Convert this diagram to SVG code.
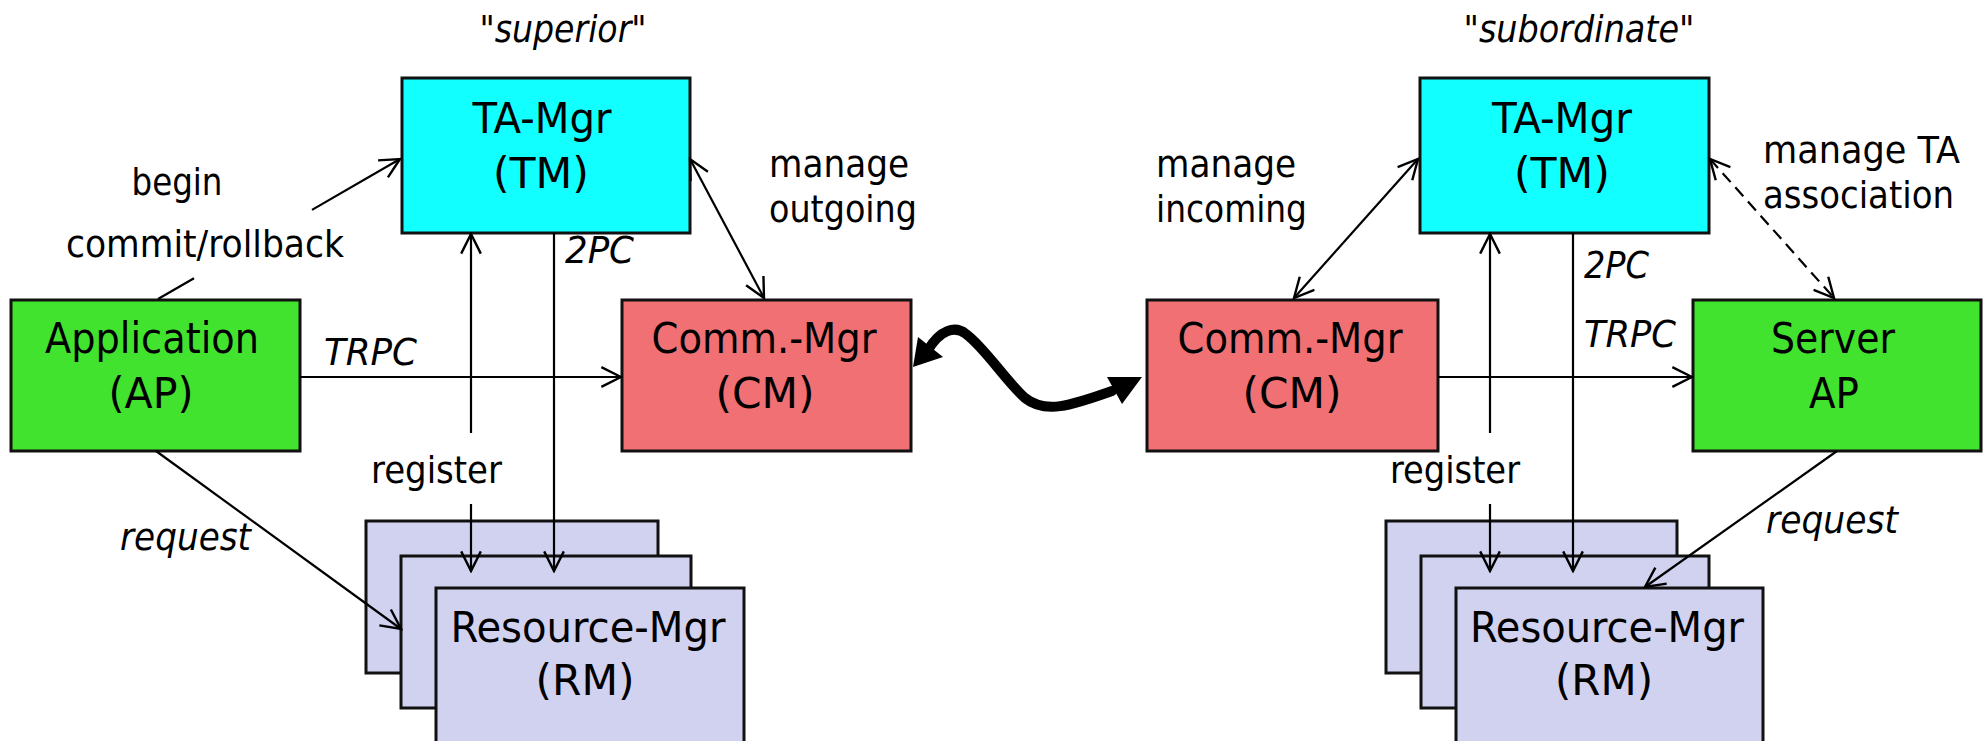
<svg xmlns="http://www.w3.org/2000/svg" width="1984" height="741" viewBox="0 0 1984 741">
  <style>
    text { font-family: "DejaVu Sans Condensed", "DejaVu Sans", sans-serif; font-stretch: condensed; fill: #000; }
    .node { font-size: 43px; text-anchor: middle; }
    .lbl { font-size: 38px; }
    .it { font-style: italic; }
    .mid { text-anchor: middle; }
    .box { stroke: #111; stroke-width: 3; }
    .tm { fill: #12FFFF; }
    .ap { fill: #42E32E; }
    .cm { fill: #F07074; }
    .rm { fill: #D1D2EF; }
    .conn { stroke: #000; stroke-width: 2.2; fill: none; }
    .dash { stroke-dasharray: 12 7; }
  </style>
  <defs>
    <marker id="arr" markerUnits="userSpaceOnUse" markerWidth="24" markerHeight="24" viewBox="-20 -11 22 22" refX="0" refY="0" orient="auto-start-reverse">
      <path d="M -18,-9 L 0,0 L -18,9" fill="none" stroke="#000" stroke-width="2.2"/>
    </marker>
  </defs>

  <rect width="1984" height="741" fill="#fff"/>

  <!-- section headings -->
  <text class="lbl it mid" x="563" y="42" textLength="167" lengthAdjust="spacingAndGlyphs">"superior"</text>
  <text class="lbl it mid" x="1579" y="42" textLength="231" lengthAdjust="spacingAndGlyphs">"subordinate"</text>

  <!-- superior side -->
  <g id="tm-superior">
    <rect class="box tm" x="402" y="78" width="288" height="155"/>
    <text class="node" x="542" y="133" textLength="139" lengthAdjust="spacingAndGlyphs">TA-Mgr</text>
    <text class="node" x="541" y="188" textLength="96" lengthAdjust="spacingAndGlyphs">(TM)</text>
  </g>
  <g id="application">
    <rect class="box ap" x="11" y="300" width="289" height="151"/>
    <text class="node" x="152" y="353" textLength="214" lengthAdjust="spacingAndGlyphs">Application</text>
    <text class="node" x="151" y="408" textLength="85" lengthAdjust="spacingAndGlyphs">(AP)</text>
  </g>
  <g id="cm-superior">
    <rect class="box cm" x="622" y="300" width="289" height="151"/>
    <text class="node" x="764" y="353" textLength="225" lengthAdjust="spacingAndGlyphs">Comm.-Mgr</text>
    <text class="node" x="765" y="408" textLength="99" lengthAdjust="spacingAndGlyphs">(CM)</text>
  </g>
  <g id="rm-superior">
    <rect class="box rm" x="366" y="521" width="292" height="152"/>
    <rect class="box rm" x="401" y="556" width="290" height="152"/>
    <rect class="box rm" x="436" y="588" width="308" height="170"/>
    <text class="node" x="588" y="642" textLength="275" lengthAdjust="spacingAndGlyphs">Resource-Mgr</text>
    <text class="node" x="585" y="695" textLength="99" lengthAdjust="spacingAndGlyphs">(RM)</text>
  </g>

  <!-- subordinate side -->
  <g id="tm-subordinate">
    <rect class="box tm" x="1420" y="78" width="289" height="155"/>
    <text class="node" x="1562" y="133" textLength="140" lengthAdjust="spacingAndGlyphs">TA-Mgr</text>
    <text class="node" x="1562" y="188" textLength="96" lengthAdjust="spacingAndGlyphs">(TM)</text>
  </g>
  <g id="cm-subordinate">
    <rect class="box cm" x="1147" y="300" width="291" height="151"/>
    <text class="node" x="1290" y="353" textLength="225" lengthAdjust="spacingAndGlyphs">Comm.-Mgr</text>
    <text class="node" x="1292" y="408" textLength="99" lengthAdjust="spacingAndGlyphs">(CM)</text>
  </g>
  <g id="server-ap">
    <rect class="box ap" x="1693" y="300" width="288" height="151"/>
    <text class="node" x="1833" y="353" textLength="124" lengthAdjust="spacingAndGlyphs">Server</text>
    <text class="node" x="1834" y="408" textLength="50" lengthAdjust="spacingAndGlyphs">AP</text>
  </g>
  <g id="rm-subordinate">
    <rect class="box rm" x="1386" y="521" width="291" height="152"/>
    <rect class="box rm" x="1421" y="556" width="288" height="152"/>
    <rect class="box rm" x="1456" y="588" width="307" height="170"/>
    <text class="node" x="1607" y="642" textLength="274" lengthAdjust="spacingAndGlyphs">Resource-Mgr</text>
    <text class="node" x="1604" y="695" textLength="98" lengthAdjust="spacingAndGlyphs">(RM)</text>
  </g>

  <!-- connectors -->
  <g id="connectors">
    <!-- begin / commit/rollback : AP -> TM (broken around label) -->
    <path class="conn" d="M158,299 L194,278.2"/>
    <path class="conn" d="M312,209.9 L400,159" marker-end="url(#arr)"/>
    <!-- TRPC AP -> CM -->
    <path class="conn" d="M300,377 L621,377" marker-end="url(#arr)"/>
    <!-- register (RM <-> TM) -->
    <path class="conn" d="M471,433 L471,234" marker-end="url(#arr)"/>
    <path class="conn" d="M471,504 L471,571" marker-end="url(#arr)"/>
    <!-- 2PC TM -> RM -->
    <path class="conn" d="M554,233 L554,571" marker-end="url(#arr)"/>
    <!-- manage outgoing TM <-> CM -->
    <path class="conn" d="M690,159 L764,298" marker-start="url(#arr)" marker-end="url(#arr)"/>
    <!-- request AP -> RM -->
    <path class="conn" d="M156,451 L401,629" marker-end="url(#arr)"/>

    <!-- network link CM <-> CM -->
    <path d="M928,350 C 940,330 955,325 966,334 C 985,348 1005,380 1025,398 C 1045,414 1070,406 1112,391" fill="none" stroke="#000" stroke-width="10" stroke-linecap="round"/>
    <polygon points="913,367 918,337 943,357" fill="#000"/>
    <polygon points="1142,377 1107,377 1122,404" fill="#000"/>

    <!-- manage incoming TM <-> CM -->
    <path class="conn" d="M1418,159 L1294,298" marker-start="url(#arr)" marker-end="url(#arr)"/>
    <!-- TRPC CM -> Server -->
    <path class="conn" d="M1438,377 L1692,377" marker-end="url(#arr)"/>
    <!-- register (RM <-> TM) -->
    <path class="conn" d="M1490,433 L1490,234" marker-end="url(#arr)"/>
    <path class="conn" d="M1490,504 L1490,571" marker-end="url(#arr)"/>
    <!-- 2PC TM -> RM -->
    <path class="conn" d="M1573,233 L1573,571" marker-end="url(#arr)"/>
    <!-- manage TA association TM <-> Server -->
    <path class="conn dash" d="M1710,159 L1834,298" marker-start="url(#arr)" marker-end="url(#arr)"/>
    <!-- request Server -> RM -->
    <path class="conn" d="M1837,451 L1645,587" marker-end="url(#arr)"/>
  </g>

  <!-- connector labels -->
  <g id="labels">
    <text class="lbl mid" x="177" y="195" textLength="91" lengthAdjust="spacingAndGlyphs">begin</text>
    <text class="lbl mid" x="205" y="257" textLength="278" lengthAdjust="spacingAndGlyphs">commit/rollback</text>
    <text class="lbl it" x="324" y="365" textLength="93" lengthAdjust="spacingAndGlyphs">TRPC</text>
    <text class="lbl it" x="565" y="263" textLength="69" lengthAdjust="spacingAndGlyphs">2PC</text>
    <text class="lbl" x="371" y="483" textLength="131" lengthAdjust="spacingAndGlyphs">register</text>
    <text class="lbl it" x="120" y="550" textLength="131" lengthAdjust="spacingAndGlyphs">request</text>
    <text class="lbl" x="769" y="177" textLength="140" lengthAdjust="spacingAndGlyphs">manage</text>
    <text class="lbl" x="769" y="222" textLength="148" lengthAdjust="spacingAndGlyphs">outgoing</text>

    <text class="lbl" x="1156" y="177" textLength="140" lengthAdjust="spacingAndGlyphs">manage</text>
    <text class="lbl" x="1156" y="222" textLength="151" lengthAdjust="spacingAndGlyphs">incoming</text>
    <text class="lbl" x="1763" y="163" textLength="197" lengthAdjust="spacingAndGlyphs">manage TA</text>
    <text class="lbl" x="1763" y="208" textLength="191" lengthAdjust="spacingAndGlyphs">association</text>
    <text class="lbl it" x="1584" y="278" textLength="65" lengthAdjust="spacingAndGlyphs">2PC</text>
    <text class="lbl it" x="1584" y="347" textLength="92" lengthAdjust="spacingAndGlyphs">TRPC</text>
    <text class="lbl" x="1390" y="483" textLength="130" lengthAdjust="spacingAndGlyphs">register</text>
    <text class="lbl it" x="1766" y="533" textLength="132" lengthAdjust="spacingAndGlyphs">request</text>
  </g>
</svg>
